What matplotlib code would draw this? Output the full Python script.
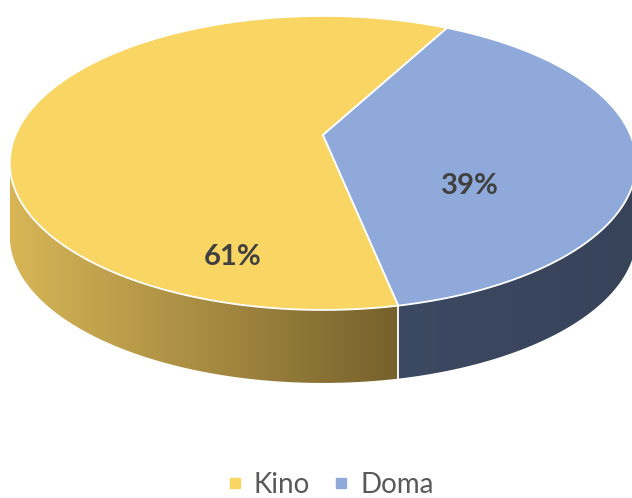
import numpy as np
import matplotlib.pyplot as plt
from matplotlib.patches import Polygon
from matplotlib.lines import Line2D
from matplotlib.colors import LinearSegmentedColormap

plt.rcParams['font.family'] = ['Lato', 'DejaVu Sans']

# data
labels = ['Kino', 'Doma']
shares = [61, 39]
pct_text = ['61%', '39%']

top_colors = ['#F9D664', '#8EA9DA']
side_light = ['#D8B657', '#3C4962']
side_dark = ['#76612C', '#374359']
label_xy = [(233, 257), (470, 186)]   # text positions (pixels)

# fake 3D geometry (pixel space)
cx, cy = 323, 135
rx, ry = 307.5, 141.7
persp = 0.19
depth = 73
start = 61.9   # degrees, slices run counterclockwise


def proj(t, z=0.0):
    u, v = np.cos(t), np.sin(t)
    w = 1 + persp * v
    return cx + rx * u / w, cy - ry * v / w + z


fig = plt.figure(figsize=(6.32, 4.98), dpi=100)
ax = fig.add_axes([0, 0, 1, 1])

edges = start + np.concatenate([[0], np.cumsum(shares)]) / np.sum(shares) * 360.0

# silhouette (left/right extreme points of the top ellipse)
ts = np.radians(np.linspace(90, 450, 3601))
xs, _ = proj(ts)
t_left = np.degrees(ts[np.argmin(xs)])
t_right = np.degrees(ts[np.argmax(xs)])
if t_right < t_left:
    t_right += 360

# side walls, shaded left to right
for i in range(len(shares)):
    a0, a1 = edges[i], edges[i + 1]
    for sh in (-360, 0, 360):
        s0 = max(a0 + sh, t_left)
        s1 = min(a1 + sh, t_right)
        if s1 <= s0:
            continue
        t = np.radians(np.linspace(s0, s1, 200))
        xt, yt = proj(t)
        xb, yb = proj(t[::-1], depth)
        pts = np.column_stack([np.concatenate([xt, xb]), np.concatenate([yt, yb])])
        poly = Polygon(pts, closed=True, facecolor='none', edgecolor='none', zorder=1)
        ax.add_patch(poly)
        cmap = LinearSegmentedColormap.from_list('side%d' % i, [side_light[i], side_dark[i]])
        x0, x1 = pts[:, 0].min(), pts[:, 0].max()
        y0, y1 = pts[:, 1].min(), pts[:, 1].max()
        grad = np.linspace(0, 1, 256).reshape(1, -1)
        im = ax.imshow(grad, cmap=cmap, extent=[x0, x1, y1, y0], aspect='auto',
                       interpolation='bicubic', zorder=1)
        im.set_clip_path(poly)

ax.set_xlim(0, 632)
ax.set_ylim(498, 0)
ax.axis('off')

# vertical white lines on the wall where slices meet
for a in edges[1:-1]:
    for sh in (-360, 0, 360):
        if t_left < a + sh < t_right:
            xa, ya = proj(np.radians(a + sh))
            ax.plot([xa, xa], [ya, ya + depth], color='white', lw=1.3, zorder=2)

# top faces
for i in range(len(shares)):
    t = np.radians(np.linspace(edges[i], edges[i + 1], 300))
    xt, yt = proj(t)
    pts = np.column_stack([np.concatenate([[cx], xt]), np.concatenate([[cy], yt])])
    ax.add_patch(Polygon(pts, closed=True, facecolor=top_colors[i],
                         edgecolor='white', lw=1.3, joinstyle='round', zorder=3))

# percentage labels
for (x, y), s in zip(label_xy, pct_text):
    ax.text(x, y, s, ha='center', va='center', fontsize=21, fontweight='bold',
            color='#404040', zorder=5)

handles = [Line2D([], [], marker='s', ls='none', markersize=7, color=c) for c in top_colors]
fig.legend(handles, labels, loc='lower center', bbox_to_anchor=(0.522, -0.05), ncol=2,
           frameon=False, fontsize=20, labelcolor='#595959', handlelength=0.6,
           handletextpad=0.4, columnspacing=0.8)

fig.savefig('out.png', dpi=100)
